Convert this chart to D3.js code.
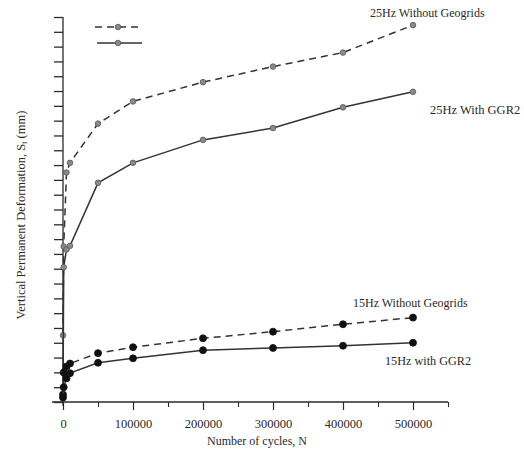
<!DOCTYPE html>
<html>
<head>
<meta charset="utf-8">
<script src="https://cdn.jsdelivr.net/npm/d3@7"></script>
<style>
  html, body { margin: 0; padding: 0; background: #fff; }
  svg { display: block; font-family: "Liberation Serif", "DejaVu Serif", serif; }
</style>
</head>
<body>
<svg id="chart" width="524" height="452"></svg>
<script>
// Number of loading cycles at which settlement was recorded
const cycles = [1, 1000, 5000, 10000, 50000, 100000, 200000, 300000, 400000, 500000];

// Vertical permanent deformation (mm) for each test
const hz25NoGrid = [4.5, 10.5, 15.5, 16.15, 18.8, 20.3, 21.6, 22.65, 23.6, 25.45];
const hz25GGR2   = [0.3, 9.1, 10.3, 10.55, 14.8, 16.15, 17.7, 18.5, 19.9, 20.95];
const hz15NoGrid = [0.5, 2.0, 2.4, 2.6, 3.3, 3.7, 4.3, 4.75, 5.25, 5.7];
const hz15GGR2   = [0.3, 1.0, 1.6, 1.95, 2.65, 2.95, 3.5, 3.65, 3.8, 4.0];

const xMajorTicks = [0, 100000, 200000, 300000, 400000, 500000];
const xMinorTicks = [50000, 150000, 250000, 350000, 450000, 550000];
const yTicks = d3.range(0, 27, 1);

const svg = d3.select("#chart");
const ink = "#2a2a2a";

const x = d3.scaleLinear().domain([0, 500000]).range([63, 413]);
const y = d3.scaleLinear().domain([0, 26]).range([402, 17]);

// X axis: full baseline, major ticks with labels, shorter minor ticks
svg.append("line")
  .attr("x1", x(-15700)).attr("x2", x(550000))
  .attr("y1", y(0)).attr("y2", y(0))
  .attr("stroke", ink).attr("stroke-width", 1.3);

const xAxis = svg.append("g")
  .attr("transform", `translate(0,${y(0)})`)
  .call(d3.axisBottom(x).tickValues(xMajorTicks).tickFormat(d3.format("d"))
        .tickSize(8).tickPadding(9).tickSizeOuter(0));
xAxis.select(".domain").remove();
xAxis.selectAll(".tick line").attr("stroke", ink).attr("stroke-width", 1.2);
xAxis.selectAll(".tick text").attr("fill", ink).attr("font-size", 12.5)
  .attr("font-family", "Liberation Serif");

const xMinor = svg.append("g")
  .attr("transform", `translate(0,${y(0)})`)
  .call(d3.axisBottom(x).tickValues(xMinorTicks).tickFormat("").tickSize(5).tickSizeOuter(0));
xMinor.select(".domain").remove();
xMinor.selectAll(".tick line").attr("stroke", ink).attr("stroke-width", 1.1);

// Y axis: unlabelled unit ticks pointing left
svg.append("line")
  .attr("x1", x(0)).attr("x2", x(0))
  .attr("y1", y(26)).attr("y2", y(0) + 4)
  .attr("stroke", ink).attr("stroke-width", 1.3);

const yAxis = svg.append("g")
  .attr("transform", `translate(${x(0)},0)`)
  .call(d3.axisLeft(y).tickValues(yTicks).tickFormat("").tickSize(9).tickSizeOuter(0));
yAxis.select(".domain").remove();
yAxis.selectAll(".tick line").attr("stroke", ink).attr("stroke-width", 1.3);

// Axis titles
svg.append("text")
  .attr("x", 257).attr("y", 445)
  .attr("text-anchor", "middle").attr("font-size", 12).attr("fill", ink)
  .text("Number of cycles, N");

const yTitle = svg.append("text")
  .attr("transform", "translate(25,215) rotate(-90)")
  .attr("text-anchor", "middle").attr("font-size", 12.5).attr("fill", ink);
yTitle.append("tspan").text("Vertical Permanent Deformation, S");
yTitle.append("tspan").attr("font-size", 8).attr("dy", 2).text("t");
yTitle.append("tspan").attr("dy", -2).text(" (mm)");

// Series
const series = [
  { values: hz25NoGrid, dash: "7,5", fill: "#8a8a8a", stroke: "#555", r: 2.8 },
  { values: hz25GGR2,   dash: null,  fill: "#8a8a8a", stroke: "#555", r: 2.8 },
  { values: hz15NoGrid, dash: "7,5", fill: "#111",    stroke: "#111", r: 3.5 },
  { values: hz15GGR2,   dash: null,  fill: "#111",    stroke: "#111", r: 3.5 }
];

const line = d3.line().x(d => x(d[0])).y(d => y(d[1]));

series.forEach(s => {
  const pts = cycles.map((c, i) => [c, s.values[i]]);
  svg.append("path")
    .datum(pts)
    .attr("d", line)
    .attr("fill", "none")
    .attr("stroke", "#333")
    .attr("stroke-width", 1.5)
    .attr("stroke-dasharray", s.dash);
  svg.append("g").selectAll("circle")
    .data(pts)
    .join("circle")
    .attr("cx", d => x(d[0]))
    .attr("cy", d => y(d[1]))
    .attr("r", s.r)
    .attr("fill", s.fill)
    .attr("stroke", s.stroke)
    .attr("stroke-width", 0.8);
});

// Legend swatches (no captions)
const legend = [
  { dash: "7,5", y: 27, x1: 95, x2: 138 },
  { dash: null,  y: 43, x1: 97, x2: 142 }
];
legend.forEach(l => {
  svg.append("line")
    .attr("x1", l.x1).attr("x2", l.x2).attr("y1", l.y).attr("y2", l.y)
    .attr("stroke", "#333").attr("stroke-width", 1.7)
    .attr("stroke-dasharray", l.dash);
  svg.append("circle")
    .attr("cx", 118).attr("cy", l.y).attr("r", 2.8)
    .attr("fill", "#8a8a8a").attr("stroke", "#555").attr("stroke-width", 0.8);
});

// Series labels
const labels = [
  { text: "25Hz Without Geogrids", x: 370, y: 17,  size: 12 },
  { text: "25Hz With GGR2",        x: 430, y: 114, size: 12.5 },
  { text: "15Hz Without Geogrids", x: 353, y: 307, size: 12 },
  { text: "15Hz with GGR2",        x: 385, y: 365, size: 12.2 }
];
svg.append("g").selectAll("text")
  .data(labels)
  .join("text")
  .attr("x", d => d.x).attr("y", d => d.y)
  .attr("font-size", d => d.size).attr("fill", ink)
  .text(d => d.text);
</script>
</body>
</html>
